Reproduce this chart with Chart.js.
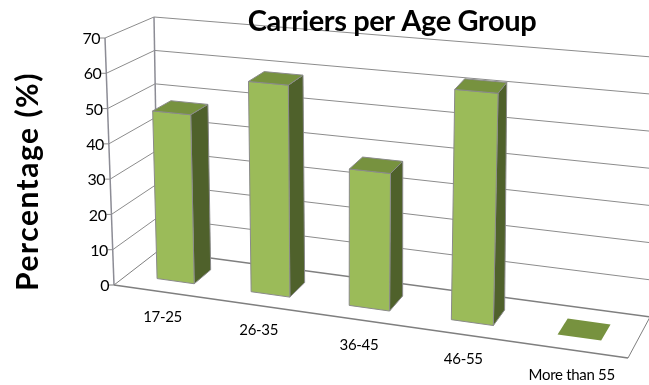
<!DOCTYPE html>
<html>
<head>
<meta charset="UTF-8">
<title>Carriers per Age Group</title>
<style>
    html, body { margin: 0; padding: 0; background: #fff; }
    #wrap { width: 649px; height: 385px; }
</style>
<script src="https://cdn.jsdelivr.net/npm/chart.js@4"></script>
</head>
<body>
<div id="wrap"><canvas id="carriersChart"></canvas></div>
<script>
    const ageGroups = ['17-25', '26-35', '36-45', '46-55', 'More than 55'];
    const carriers = [48, 59, 37.5, 62, 0];
    const percentTicks = [0, 10, 20, 30, 40, 50, 60, 70];

    // corners of the 3D box on screen (u = across, v = up, d = depth into the page)
    const box = {
        fl0: [114, 285], fr0: [628, 358], fl1: [105, 38], fr1: [642, 84],
        bl0: [158, 251], br0: [650, 317], bl1: [154, 17], br1: [652, 57]
    };
    const depthFront = 0.31, depthBack = 0.71;

    function lerp(a, b, t) {
        return [a[0] + (b[0] - a[0]) * t, a[1] + (b[1] - a[1]) * t];
    }

    // foreshortening along the x axis: categories get wider to the right
    function warp(u) {
        return 0.004 + 0.895 * u + 0.1 * u * u;
    }

    function project(u, v, d) {
        const front = lerp(lerp(box.fl0, box.fr0, u), lerp(box.fl1, box.fr1, u), v);
        const back = lerp(lerp(box.bl0, box.br0, u), lerp(box.bl1, box.br1, u), v);
        return lerp(front, back, d);
    }

    function face(ctx, pts, fill, stroke) {
        ctx.beginPath();
        pts.forEach((p, i) => i ? ctx.lineTo(p[0], p[1]) : ctx.moveTo(p[0], p[1]));
        ctx.closePath();
        ctx.fillStyle = fill;
        ctx.fill();
        if (stroke) {
            ctx.strokeStyle = stroke;
            ctx.lineWidth = 1;
            ctx.stroke();
        }
    }

    function line(ctx, a, b, color, width) {
        ctx.beginPath();
        ctx.moveTo(a[0], a[1]);
        ctx.lineTo(b[0], b[1]);
        ctx.strokeStyle = color;
        ctx.lineWidth = width;
        ctx.stroke();
    }

    const perspective3d = {
        id: 'perspective3d',
        beforeDatasetsDraw(chart) {
            const ctx = chart.ctx;
            const xs = chart.scales.x, ys = chart.scales.y;
            const vOf = val => (ys.bottom - ys.getPixelForValue(val)) / (ys.bottom - ys.top);
            const uOf = px => warp((px - xs.left) / (xs.right - xs.left));

            ctx.save();
            // walls and gridlines
            ys.ticks.forEach(t => {
                const v = vOf(t.value);
                const color = t.value === 0 ? '#7f7f7f' : '#8c8c8c';
                const p = project(0, v, 0);
                line(ctx, p, project(0, v, 1), color, 1);
                line(ctx, project(0, v, 1), project(1, v, 1), color, t.value === 0 ? 1.5 : 1);
                line(ctx, p, [p[0] - 5, p[1]], color, 1);

                ctx.fillStyle = '#000';
                ctx.font = '16px Lato';
                ctx.letterSpacing = '-0.5px';
                ctx.textAlign = 'right';
                ctx.textBaseline = 'middle';
                ctx.fillText(String(t.value), p[0] - 5, p[1] + 1);
            });
            line(ctx, project(0, 0, 0), project(0, 1, 0), '#8c8c95', 1.5);
            line(ctx, project(0, 0, 1), project(0, 1, 1), '#8c8c95', 1.5);
            line(ctx, project(0, 0, 0), project(1, 0, 0), '#7f7f7f', 1.5);
            line(ctx, project(1, 0, 0), project(1, 0, 1), '#7f7f7f', 1);

            // bars, from the library's own bar elements
            chart.getDatasetMeta(0).data.forEach((bar, i) => {
                const u0 = uOf(bar.x - bar.width / 2);
                const u1 = uOf(bar.x + bar.width / 2);
                const v = (ys.bottom - bar.y) / (ys.bottom - ys.top);
                const edge = v > 0 ? '#8a8a8a' : null;
                const d0 = depthFront, d1 = depthBack;
                if (v > 0) {
                    face(ctx, [project(u1, 0, d0), project(u1, 0, d1), project(u1, v, d1), project(u1, v, d0)], '#4f612b', edge);
                    face(ctx, [project(u0, 0, d0), project(u1, 0, d0), project(u1, v, d0), project(u0, v, d0)], '#9bbb59', edge);
                }
                face(ctx, [project(u0, v, d0), project(u1, v, d0), project(u1, v, d1), project(u0, v, d1)], '#77923f', edge);

                const c = project(uOf(bar.x), 0, 0);
                ctx.fillStyle = '#000';
                ctx.font = '15px Lato';
                ctx.letterSpacing = '-0.3px';
                ctx.textAlign = 'center';
                ctx.textBaseline = 'middle';
                ctx.fillText(ageGroups[i], c[0], c[1] + 25);
            });

            // titles
            ctx.fillStyle = '#000';
            ctx.textBaseline = 'alphabetic';
            ctx.textAlign = 'center';
            ctx.font = 'bold 29px Lato';
            ctx.letterSpacing = '-0.4px';
            ctx.fillText('Carriers per Age Group', 392, 31);
            ctx.save();
            ctx.translate(38, 181.5);
            ctx.rotate(-Math.PI / 2);
            ctx.font = 'bold 30px Lato';
            ctx.letterSpacing = '1.5px';
            ctx.fillText('Percentage (%)', 0, 0);
            ctx.restore();
            ctx.restore();
            return false;
        }
    };

    new Chart(document.getElementById('carriersChart'), {
        type: 'bar',
        data: {
            labels: ageGroups,
            datasets: [{ data: carriers, backgroundColor: 'transparent', barPercentage: 0.4, categoryPercentage: 1 }]
        },
        options: {
            responsive: true,
            maintainAspectRatio: false,
            animation: false,
            layout: { padding: { left: 114, top: 38, right: 21, bottom: 27 } },
            plugins: { legend: { display: false }, tooltip: { enabled: false } },
            scales: {
                x: { display: false },
                y: {
                    display: false,
                    min: 0,
                    max: 70,
                    afterBuildTicks: scale => { scale.ticks = percentTicks.map(value => ({ value })); }
                }
            }
        },
        plugins: [perspective3d]
    });
</script>
</body>
</html>
